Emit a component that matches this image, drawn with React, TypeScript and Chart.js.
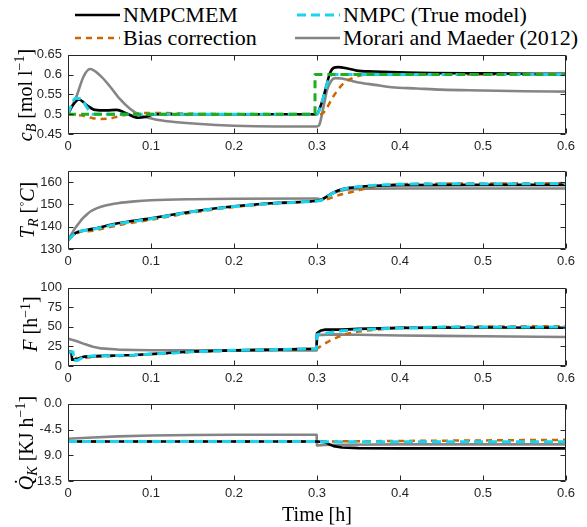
import React, { useEffect, useRef } from "react";
import { Chart, registerables } from "chart.js";
Chart.register(...registerables);

// ---------- shared axis data ----------
const xTicks = [0, 0.1, 0.2, 0.3, 0.4, 0.5, 0.6];
const xTickLabels = ["0", "0.1", "0.2", "0.3", "0.4", "0.5", "0.6"];

// ---------- panel 1: c_B ----------
const cbTicks = [0.45, 0.5, 0.55, 0.6, 0.65];
const cbTickLabels = ["0.45", "0.5", "0.55", "0.6", "0.65"];
const cbBlackT = [0, 0.005, 0.0133, 0.0225, 0.0325, 0.0466, 0.0586, 0.0707, 0.0847, 0.0928, 0.1028, 0.11, 0.2, 0.3, 0.3016, 0.3076, 0.3116, 0.3157, 0.3197, 0.3257, 0.3357, 0.3478, 0.3679, 0.408, 0.5, 0.6];
const cbBlackV = [0.5, 0.52, 0.537, 0.523, 0.511, 0.5097, 0.511, 0.5016, 0.491, 0.4928, 0.4992, 0.5, 0.5, 0.5, 0.5056, 0.5419, 0.574, 0.6039, 0.6167, 0.619, 0.616, 0.61, 0.6077, 0.605, 0.603, 0.602];
const cbCyanT = [0, 0.004, 0.009, 0.016, 0.022, 0.03, 0.1, 0.3, 0.302, 0.308, 0.312, 0.316, 0.32, 0.325, 0.4, 0.6];
const cbCyanV = [0.5, 0.522, 0.54, 0.539, 0.52, 0.5, 0.5, 0.5, 0.506, 0.545, 0.575, 0.597, 0.601, 0.6, 0.6, 0.6];
const cbBiasT = [0, 0.015, 0.03, 0.04, 0.05, 0.06, 0.075, 0.09, 0.11, 0.15, 0.2, 0.3, 0.305, 0.31, 0.32, 0.332, 0.345, 0.355, 0.37, 0.45, 0.6];
const cbBiasV = [0.5, 0.497, 0.49, 0.488, 0.489, 0.494, 0.5, 0.503, 0.503, 0.501, 0.5, 0.5, 0.5, 0.51, 0.546, 0.578, 0.593, 0.599, 0.601, 0.6, 0.6];
const cbMorariT = [0, 0.0104, 0.0185, 0.0265, 0.0386, 0.0506, 0.0627, 0.0747, 0.0868, 0.1028, 0.1229, 0.155, 0.2, 0.25, 0.3, 0.303, 0.308, 0.312, 0.317, 0.322, 0.33, 0.34, 0.35, 0.37, 0.39, 0.42, 0.45, 0.5, 0.55, 0.6];
const cbMorariV = [0.5, 0.546, 0.594, 0.614, 0.598, 0.57, 0.538, 0.5137, 0.4976, 0.488, 0.4815, 0.476, 0.471, 0.469, 0.469, 0.474, 0.52, 0.56, 0.584, 0.591, 0.59, 0.585, 0.58, 0.574, 0.568, 0.565, 0.562, 0.56, 0.558, 0.557];
const cbRefT = [0, 0.2976, 0.2976, 0.6];
const cbRefV = [0.5, 0.5, 0.6, 0.6];

// ---------- panel 2: T_R ----------
const trTicks = [130, 140, 150, 160];
const trTickLabels = ["130", "140", "150", "160"];
const trBlackT = [0, 0.006, 0.013, 0.03, 0.06, 0.1, 0.15, 0.2, 0.25, 0.3, 0.305, 0.312, 0.32, 0.33, 0.34, 0.355, 0.37, 0.4, 0.5, 0.6];
const trBlackV = [134, 136.3, 137.8, 139, 141.5, 143.7, 146.8, 149.1, 150.6, 151.6, 152, 153.5, 155.3, 156.7, 157.4, 158, 158.3, 158.6, 158.7, 158.7];
const trCyanT = [0, 0.006, 0.013, 0.03, 0.06, 0.1, 0.15, 0.2, 0.25, 0.3, 0.305, 0.312, 0.32, 0.33, 0.34, 0.355, 0.37, 0.4, 0.5, 0.6];
const trCyanV = [134, 136.2, 137.7, 138.8, 141.2, 143.5, 146.7, 149, 150.5, 151.5, 151.8, 153.3, 155.2, 156.6, 157.4, 158.1, 158.5, 159, 159.2, 159.3];
const trBiasT = [0, 0.006, 0.013, 0.03, 0.06, 0.1, 0.15, 0.2, 0.25, 0.3, 0.31, 0.32, 0.33, 0.345, 0.36, 0.38, 0.4, 0.5, 0.6];
const trBiasV = [134, 136, 137.4, 138.2, 140.6, 143.1, 146.3, 148.8, 150.4, 151.5, 152, 153.3, 154.5, 155.8, 157.2, 158.4, 159, 159.3, 159.5];
const trMorariT = [0, 0.004, 0.008, 0.013, 0.018, 0.023, 0.028, 0.035, 0.045, 0.06, 0.08, 0.1, 0.15, 0.2, 0.3, 0.305, 0.312, 0.32, 0.33, 0.345, 0.36, 0.4, 0.5, 0.6];
const trMorariV = [134, 136.5, 139, 141.5, 143.8, 145.6, 147, 148.3, 149.5, 150.5, 151.3, 151.8, 152.3, 152.5, 152.6, 152.2, 153.5, 155, 156.2, 156.8, 157, 157.1, 157.1, 157.1];

// ---------- panel 3: F ----------
const fTicks = [0, 25, 50, 75, 100];
const fTickLabels = ["0", "25", "50", "75", "100"];
const fBlackT = [0, 0.004, 0.005, 0.01, 0.015, 0.02, 0.04, 0.06, 0.08, 0.1, 0.15, 0.2, 0.25, 0.2995, 0.3, 0.305, 0.31, 0.33, 0.35, 0.4, 0.5, 0.6];
const fBlackV = [18, 18, 8, 8.5, 10.5, 12, 13, 13.4, 14, 15.3, 18.5, 20, 21, 22, 42, 45.5, 46.5, 46.5, 47.5, 48.8, 49.2, 49];
const fCyanT = [0, 0.006, 0.007, 0.012, 0.016, 0.02, 0.03, 0.05, 0.08, 0.1, 0.15, 0.2, 0.25, 0.2995, 0.3, 0.31, 0.33, 0.36, 0.4, 0.45, 0.5, 0.6];
const fCyanV = [18, 18, 7, 7.5, 10, 12, 12.7, 13.2, 14, 15.2, 18.3, 20, 21, 22, 40, 42, 45, 47, 48.5, 49.8, 50, 50];
const fBiasT = [0, 0.008, 0.01, 0.015, 0.02, 0.03, 0.05, 0.08, 0.1, 0.15, 0.2, 0.25, 0.3, 0.305, 0.315, 0.325, 0.335, 0.35, 0.37, 0.4, 0.5, 0.6];
const fBiasV = [18, 17, 9, 9.5, 10.5, 11.5, 12.5, 13.7, 15, 18, 20, 21, 22, 26, 32, 37, 41, 44, 46.5, 49, 50.5, 51];
const fMorariT = [0, 0.01, 0.02, 0.03, 0.04, 0.06, 0.08, 0.1, 0.2, 0.2995, 0.3, 0.32, 0.35, 0.4, 0.45, 0.5, 0.6];
const fMorariV = [35, 32, 28, 24.5, 22.5, 21, 20.5, 20.2, 20, 20, 39.5, 40.5, 40, 39, 38.5, 38, 37];

// ---------- panel 4: Q_K ----------
const qTicks = [-13.5, -9, -4.5, 0];
const qTickLabels = ["-13.5", "9.0", "-4.5", "0.0"];
const qBlackT = [0, 0.1, 0.2, 0.3, 0.31, 0.315, 0.32, 0.33, 0.35, 0.4, 0.5, 0.6];
const qBlackV = [-6.6, -6.6, -6.6, -6.6, -6.7, -7.1, -7.4, -7.65, -7.75, -7.8, -7.8, -7.8];
const qCyanT = [0, 0.3, 0.31, 0.6];
const qCyanV = [-6.6, -6.6, -6.65, -6.65];
const qBiasT = [0, 0.3, 0.35, 0.4, 0.45, 0.5, 0.55, 0.6];
const qBiasV = [-6.6, -6.6, -6.55, -6.5, -6.45, -6.4, -6.35, -6.3];
const qMorariT = [0, 0.03, 0.06, 0.1, 0.15, 0.2, 0.25, 0.2995, 0.3, 0.31, 0.33, 0.4, 0.5, 0.6];
const qMorariV = [-6.1, -5.9, -5.7, -5.55, -5.45, -5.4, -5.4, -5.4, -7.3, -7.2, -7.15, -7.1, -7.1, -7.1];

// ---------- styles ----------
const BLACK = "#000000";
const CYAN = "#1ad3ee";
const ORANGE = "#cc6600";
const GRAY = "#858585";
const GREEN = "#1fae1f";
const AXIS = "#262626";
const SERIF = "'Liberation Serif', 'Times New Roman', serif";
const SANS = "'Liberation Sans', Arial, sans-serif";

type Series = { t: number[]; v: number[]; color: string; width: number; dash: number[]; order: number; smooth: boolean };

function mk(t: number[], v: number[], kind: string, smooth: boolean): Series {
  if (kind === "black") return { t, v, color: BLACK, width: 2.6, dash: [], order: 2, smooth };
  if (kind === "cyan") return { t, v, color: CYAN, width: 3, dash: [9, 5], order: 1, smooth };
  if (kind === "bias") return { t, v, color: ORANGE, width: 2.5, dash: [6, 5], order: 3, smooth };
  if (kind === "ref") return { t, v, color: GREEN, width: 3, dash: [8, 5], order: 0, smooth: false };
  return { t, v, color: GRAY, width: 2.6, dash: [], order: 4, smooth };
}

const framePlugin = {
  id: "frame",
  afterDraw(chart: any) {
    const { ctx, chartArea } = chart;
    const l = Math.round(chartArea.left) + 0.5;
    const r = Math.round(chartArea.right) - 0.5;
    const t = Math.round(chartArea.top) + 0.5;
    const b = Math.round(chartArea.bottom) - 0.5;
    ctx.save();
    ctx.strokeStyle = AXIS;
    ctx.lineWidth = 1;
    ctx.setLineDash([]);
    ctx.beginPath();
    ctx.rect(l, t, r - l, b - t);
    const tl = 5;
    chart.scales.x.ticks.forEach((tk: any) => {
      const px = Math.round(chart.scales.x.getPixelForValue(tk.value)) + 0.5;
      ctx.moveTo(px, b);
      ctx.lineTo(px, b - tl);
      ctx.moveTo(px, t);
      ctx.lineTo(px, t + tl);
    });
    chart.scales.y.ticks.forEach((tk: any) => {
      const py = Math.round(chart.scales.y.getPixelForValue(tk.value)) + 0.5;
      ctx.moveTo(l, py);
      ctx.lineTo(l + tl, py);
      ctx.moveTo(r, py);
      ctx.lineTo(r - tl, py);
    });
    ctx.stroke();
    ctx.restore();
  },
};

type PanelProps = {
  areaTop: number;
  areaHeight: number;
  yMin: number;
  yMax: number;
  yTicks: number[];
  yLabels: string[];
  series: Series[];
};

function Panel({ areaTop, areaHeight, yMin, yMax, yTicks, yLabels, series }: PanelProps) {
  const ref = useRef<HTMLCanvasElement | null>(null);
  const padTop = 10;
  const xAxisH = 26;
  const H = padTop + areaHeight + xAxisH;
  useEffect(() => {
    if (!ref.current) return;
    const chart = new Chart(ref.current, {
      type: "line",
      data: {
        datasets: series.map((s) => ({
          data: s.t.map((x, i) => ({ x, y: s.v[i] })),
          borderColor: s.color,
          backgroundColor: s.color,
          borderWidth: s.width,
          borderDash: s.dash,
          pointRadius: 0,
          fill: false,
          order: s.order,
          cubicInterpolationMode: s.smooth ? "monotone" : "default",
          tension: 0,
          borderCapStyle: "butt",
          borderJoinStyle: "round",
        })),
      } as any,
      options: {
        animation: false,
        responsive: false,
        maintainAspectRatio: false,
        devicePixelRatio: 1,
        events: [],
        layout: { padding: { left: 0, right: 21, top: padTop, bottom: 0 } },
        plugins: { legend: { display: false }, tooltip: { enabled: false } },
        scales: {
          x: {
            type: "linear",
            min: 0,
            max: 0.6,
            grid: { display: false, drawTicks: false },
            border: { display: false },
            afterBuildTicks: (s: any) => {
              s.ticks = xTicks.map((v) => ({ value: v }));
            },
            afterFit: (s: any) => {
              s.height = xAxisH;
            },
            ticks: {
              autoSkip: false,
              maxRotation: 0,
              padding: 5,
              color: AXIS,
              font: { family: SANS, size: 13 },
              callback: (_v: any, i: number) => xTickLabels[i],
            },
          },
          y: {
            type: "linear",
            min: yMin,
            max: yMax,
            grid: { display: false, drawTicks: false },
            border: { display: false },
            afterBuildTicks: (s: any) => {
              s.ticks = yTicks.map((v) => ({ value: v }));
            },
            afterFit: (s: any) => {
              s.width = 68;
            },
            ticks: {
              autoSkip: false,
              padding: 6,
              color: AXIS,
              font: { family: SANS, size: 13 },
              callback: (_v: any, i: number) => yLabels[i],
            },
          },
        },
      } as any,
      plugins: [framePlugin],
    });
    return () => chart.destroy();
  }, []);
  return (
    <canvas
      ref={ref}
      width={587}
      height={H}
      style={{ position: "absolute", left: 0, top: areaTop - padTop, width: 587, height: H }}
    />
  );
}

const sub: React.CSSProperties = { fontSize: "0.7em", verticalAlign: "-0.3em" };
const sup: React.CSSProperties = { fontSize: "0.7em", verticalAlign: "0.55em" };

function YTitle({ cx, cy, children }: { cx: number; cy: number; children: React.ReactNode }) {
  return (
    <div
      style={{
        position: "absolute",
        left: cx,
        top: cy,
        transform: "translate(-50%, -50%) rotate(-90deg)",
        whiteSpace: "nowrap",
        fontFamily: SERIF,
        fontSize: 20,
        lineHeight: "24px",
        color: "#000",
      }}
    >
      {children}
    </div>
  );
}

function LegendItem({ x, y, len, color, dash, width, label }: { x: number; y: number; len: number; color: string; dash: string; width: number; label: string }) {
  return (
    <div style={{ position: "absolute", left: x, top: y - 13, height: 26, display: "flex", alignItems: "center", whiteSpace: "nowrap" }}>
      <svg width={len} height={26} style={{ display: "block" }}>
        <line x1={0} y1={13} x2={len} y2={13} stroke={color} strokeWidth={width} strokeDasharray={dash} />
      </svg>
      <span style={{ fontFamily: SERIF, fontSize: 22, marginLeft: 3, color: "#000", lineHeight: "26px" }}>{label}</span>
    </div>
  );
}

export default function App() {
  const p1: Series[] = [
    mk(cbMorariT, cbMorariV, "gray", true),
    mk(cbBiasT, cbBiasV, "bias", true),
    mk(cbBlackT, cbBlackV, "black", true),
    mk(cbCyanT, cbCyanV, "cyan", true),
    mk(cbRefT, cbRefV, "ref", false),
  ];
  const p2: Series[] = [
    mk(trMorariT, trMorariV, "gray", true),
    mk(trBiasT, trBiasV, "bias", true),
    mk(trBlackT, trBlackV, "black", true),
    mk(trCyanT, trCyanV, "cyan", true),
  ];
  const p3: Series[] = [
    mk(fMorariT, fMorariV, "gray", false),
    mk(fBiasT, fBiasV, "bias", false),
    mk(fBlackT, fBlackV, "black", false),
    mk(fCyanT, fCyanV, "cyan", false),
  ];
  const p4: Series[] = [
    mk(qMorariT, qMorariV, "gray", false),
    mk(qBiasT, qBiasV, "bias", false),
    mk(qBlackT, qBlackV, "black", false),
    mk(qCyanT, qCyanV, "cyan", false),
  ];
  return (
    <div style={{ position: "absolute", left: 0, top: 0, width: 587, height: 527, background: "#fff", overflow: "hidden" }}>
      <LegendItem x={75} y={15} len={45} color={BLACK} dash="none" width={2.6} label="NMPCMEM" />
      <LegendItem x={297} y={15} len={43} color={CYAN} dash="9 5" width={3} label="NMPC (True model)" />
      <LegendItem x={75} y={38} len={45} color={ORANGE} dash="6 5" width={2.6} label="Bias correction" />
      <LegendItem x={295} y={38} len={45} color={GRAY} dash="none" width={2.6} label="Morari and Maeder (2012)" />

      <Panel areaTop={51} areaHeight={83} yMin={0.45} yMax={0.65} yTicks={cbTicks} yLabels={cbTickLabels} series={p1} />
      <Panel areaTop={167} areaHeight={82} yMin={130} yMax={165} yTicks={trTicks} yLabels={trTickLabels} series={p2} />
      <Panel areaTop={284} areaHeight={82} yMin={0} yMax={100} yTicks={fTicks} yLabels={fTickLabels} series={p3} />
      <Panel areaTop={400} areaHeight={81} yMin={-13.5} yMax={0} yTicks={qTicks} yLabels={qTickLabels} series={p4} />

      <YTitle cx={26} cy={95}>
        <i>c</i>
        <span style={sub}><i>B</i></span> [mol l<span style={sup}>−1</span>]
      </YTitle>
      <YTitle cx={28} cy={210}>
        <i>T</i>
        <span style={sub}><i>R</i></span> [<span style={sup}>◦</span><i>C</i>]
      </YTitle>
      <YTitle cx={28} cy={324}>
        <i>F</i> [h<span style={sup}>−1</span>]
      </YTitle>
      <YTitle cx={27} cy={443}>
        <i>Q̇</i>
        <span style={sub}><i>K</i></span> [KJ h<span style={sup}>−1</span>]
      </YTitle>

      <div
        style={{
          position: "absolute",
          left: 317,
          top: 514,
          transform: "translate(-50%, -50%)",
          whiteSpace: "nowrap",
          fontFamily: SERIF,
          fontSize: 20,
          color: "#000",
        }}
      >
        Time [h]
      </div>
    </div>
  );
}
